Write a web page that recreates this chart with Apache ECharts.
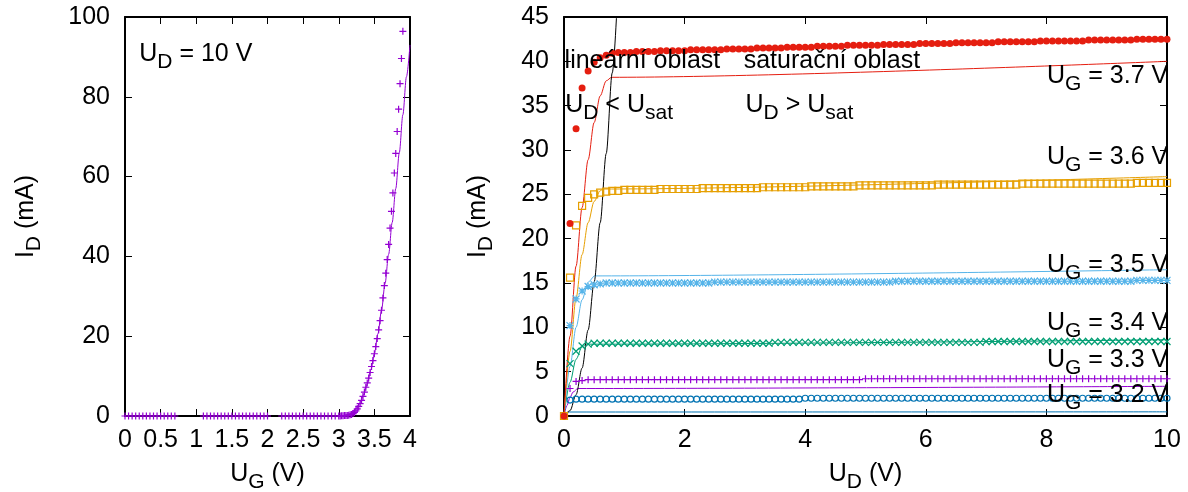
<!DOCTYPE html>
<html>
<head>
<meta charset="utf-8">
<script src="https://cdn.jsdelivr.net/npm/echarts@6/dist/echarts.min.js"></script>
<style>
  html, body { margin: 0; padding: 0; background: #fff; }
  #chart { width: 1188px; height: 492px; }
</style>
</head>
<body>
<div id="chart"></div>
<script>
// --- transfer characteristic, U_D = 10 V ---
const ugMeas = [
  0, 0.05, 0.1, 0.15, 0.2, 0.25, 0.3, 0.35, 0.4, 0.45, 0.5, 0.55, 0.6, 0.65, 0.7,
  1.1, 1.15, 1.2, 1.25, 1.3, 1.35, 1.4, 1.45, 1.5, 1.55, 1.6, 1.65, 1.7, 1.75, 1.8, 1.85, 1.9, 1.95, 2.0,
  2.2, 2.25, 2.3, 2.35, 2.4, 2.45, 2.5, 2.55, 2.6, 2.65, 2.7, 2.75, 2.8, 2.85, 2.9, 2.95, 3.0,
  3.02, 3.04, 3.06, 3.08, 3.1, 3.12, 3.14, 3.16, 3.18, 3.2,
  3.22, 3.24, 3.26, 3.28, 3.3, 3.32, 3.34, 3.36, 3.38, 3.4,
  3.42, 3.44, 3.46, 3.48, 3.5, 3.52, 3.54, 3.56, 3.58, 3.6,
  3.62, 3.64, 3.66, 3.68, 3.7, 3.72, 3.74, 3.76, 3.78, 3.8,
  3.82, 3.84, 3.86, 3.88, 3.9
];
const idMeas = [
  0, 0, 0, 0, 0, 0, 0, 0, 0, 0, 0, 0, 0, 0, 0,
  0, 0, 0, 0, 0, 0, 0, 0, 0, 0, 0, 0, 0, 0, 0, 0, 0, 0, 0,
  0, 0, 0, 0, 0, 0, 0, 0, 0, 0, 0, 0, 0, 0, 0, 0, 0,
  0, 0.05, 0.05, 0.1, 0.1, 0.15, 0.2, 0.3, 0.4, 0.6,
  0.9, 1.3, 1.8, 2.4, 3.1, 3.9, 4.9, 6.0, 7.2, 8.3,
  9.5, 10.9, 12.4, 13.9, 15.6, 17.4, 19.4, 21.6, 23.9, 26.5,
  29.6, 32.7, 35.8, 39.2, 43.0, 47.1, 51.3, 55.9, 60.9, 65.8,
  71.3, 76.9, 83.3, 89.6, 96.4
];
const ugFit = [3.0, 3.05, 3.1, 3.15, 3.2, 3.25, 3.3, 3.35, 3.4, 3.45, 3.5, 3.55, 3.6, 3.65, 3.7, 3.75, 3.8, 3.85, 3.9, 3.95, 4.0];
const idFit = [0, 0.05, 0.2, 0.5, 1.1, 2.0, 3.4, 5.4, 8.0, 11.5, 15.6, 20.6, 26.5, 33.2, 40.5, 48.5, 57, 66, 75.5, 85, 93];

// --- output characteristics ---
const udSweep = [
  0, 0.1, 0.2, 0.3, 0.4, 0.5, 0.6, 0.7, 0.8, 0.9, 1, 1.1, 1.2, 1.3, 1.4, 1.5, 1.6, 1.7, 1.8, 1.9,
  2, 2.1, 2.2, 2.3, 2.4, 2.5, 2.6, 2.7, 2.8, 2.9, 3, 3.1, 3.2, 3.3, 3.4, 3.5, 3.6, 3.7, 3.8, 3.9,
  4, 4.1, 4.2, 4.3, 4.4, 4.5, 4.6, 4.7, 4.8, 4.9, 5, 5.1, 5.2, 5.3, 5.4, 5.5, 5.6, 5.7, 5.8, 5.9,
  6, 6.1, 6.2, 6.3, 6.4, 6.5, 6.6, 6.7, 6.8, 6.9, 7, 7.1, 7.2, 7.3, 7.4, 7.5, 7.6, 7.7, 7.8, 7.9,
  8, 8.1, 8.2, 8.3, 8.4, 8.5, 8.6, 8.7, 8.8, 8.9, 9, 9.1, 9.2, 9.3, 9.4, 9.5, 9.6, 9.7, 9.8, 9.9, 10
];
const id37 = [
  0, 21.7, 32.4, 37.0, 38.9, 39.9, 40.4, 40.7, 40.9, 41.0,
  41.0, 41.0, 41.1, 41.1, 41.1, 41.1, 41.2, 41.2, 41.2, 41.2,
  41.2, 41.3, 41.3, 41.3, 41.3, 41.3, 41.3, 41.4, 41.4, 41.4,
  41.4, 41.4, 41.5, 41.5, 41.5, 41.5, 41.5, 41.6, 41.6, 41.6,
  41.6, 41.6, 41.7, 41.7, 41.7, 41.7, 41.7, 41.8, 41.8, 41.8,
  41.8, 41.8, 41.8, 41.9, 41.9, 41.9, 41.9, 41.9, 41.9, 42.0,
  42.0, 42.0, 42.0, 42.0, 42.0, 42.1, 42.1, 42.1, 42.1, 42.1,
  42.1, 42.1, 42.2, 42.2, 42.2, 42.2, 42.2, 42.2, 42.2, 42.3,
  42.3, 42.3, 42.3, 42.3, 42.3, 42.3, 42.3, 42.4, 42.4, 42.4,
  42.4, 42.4, 42.4, 42.4, 42.4, 42.5, 42.5, 42.5, 42.5, 42.5,
  42.5
];
const id36 = [
  0, 15.6, 21.5, 23.7, 24.6, 25.0, 25.2, 25.3, 25.4, 25.4,
  25.5, 25.5, 25.5, 25.5, 25.5, 25.5, 25.6, 25.6, 25.6, 25.6,
  25.6, 25.6, 25.6, 25.7, 25.7, 25.7, 25.7, 25.7, 25.7, 25.7,
  25.7, 25.7, 25.7, 25.8, 25.8, 25.8, 25.8, 25.8, 25.8, 25.8,
  25.8, 25.9, 25.9, 25.9, 25.9, 25.9, 25.9, 25.9, 25.9, 26.0,
  26.0, 26.0, 26.0, 26.0, 26.0, 26.0, 26.0, 26.0, 26.0, 26.0,
  26.0, 26.0, 26.1, 26.1, 26.1, 26.1, 26.1, 26.1, 26.1, 26.1,
  26.1, 26.1, 26.1, 26.1, 26.1, 26.1, 26.2, 26.2, 26.2, 26.2,
  26.2, 26.2, 26.2, 26.2, 26.2, 26.2, 26.2, 26.2, 26.2, 26.2,
  26.2, 26.2, 26.2, 26.2, 26.2, 26.3, 26.3, 26.3, 26.3, 26.3,
  26.3
];
const id35 = [
  0, 10.2, 13.2, 14.1, 14.6, 14.8, 14.9, 15.0, 15.0, 15.0,
  15.0, 15.0, 15.0, 15.0, 15.0, 15.0, 15.0, 15.0, 15.0, 15.0,
  15.0, 15.0, 15.0, 15.0, 15.0, 15.1, 15.1, 15.1, 15.1, 15.1,
  15.1, 15.1, 15.1, 15.1, 15.1, 15.1, 15.1, 15.1, 15.1, 15.1,
  15.1, 15.1, 15.1, 15.1, 15.1, 15.1, 15.1, 15.1, 15.1, 15.1,
  15.1, 15.1, 15.1, 15.1, 15.1, 15.2, 15.2, 15.2, 15.2, 15.2,
  15.2, 15.2, 15.2, 15.2, 15.2, 15.2, 15.2, 15.2, 15.2, 15.2,
  15.2, 15.2, 15.2, 15.2, 15.2, 15.2, 15.2, 15.2, 15.2, 15.2,
  15.2, 15.2, 15.2, 15.2, 15.2, 15.2, 15.2, 15.2, 15.2, 15.2,
  15.2, 15.2, 15.2, 15.2, 15.2, 15.3, 15.3, 15.3, 15.3, 15.3,
  15.3
];
const id34 = [
  0, 5.9, 7.3, 7.9, 8.1, 8.2, 8.2, 8.2, 8.2, 8.2,
  8.2, 8.2, 8.2, 8.2, 8.2, 8.2, 8.2, 8.2, 8.2, 8.2,
  8.2, 8.2, 8.2, 8.2, 8.2, 8.2, 8.2, 8.2, 8.2, 8.2,
  8.2, 8.2, 8.2, 8.2, 8.2, 8.3, 8.3, 8.3, 8.3, 8.3,
  8.3, 8.3, 8.3, 8.3, 8.3, 8.3, 8.3, 8.3, 8.3, 8.3,
  8.3, 8.3, 8.3, 8.3, 8.3, 8.3, 8.3, 8.3, 8.3, 8.3,
  8.3, 8.3, 8.3, 8.3, 8.3, 8.3, 8.3, 8.3, 8.3, 8.3,
  8.4, 8.4, 8.4, 8.4, 8.4, 8.4, 8.4, 8.4, 8.4, 8.4,
  8.4, 8.4, 8.4, 8.4, 8.4, 8.4, 8.4, 8.4, 8.4, 8.4,
  8.4, 8.4, 8.4, 8.4, 8.4, 8.4, 8.4, 8.4, 8.4, 8.4,
  8.4
];
const id33 = [
  0, 3.1, 3.9, 4.0, 4.1, 4.1, 4.1, 4.1, 4.1, 4.1,
  4.1, 4.1, 4.1, 4.1, 4.1, 4.1, 4.1, 4.1, 4.1, 4.1,
  4.1, 4.1, 4.1, 4.1, 4.1, 4.1, 4.1, 4.1, 4.1, 4.1,
  4.1, 4.1, 4.1, 4.1, 4.1, 4.1, 4.1, 4.1, 4.1, 4.1,
  4.1, 4.1, 4.1, 4.1, 4.1, 4.1, 4.1, 4.1, 4.1, 4.1,
  4.2, 4.2, 4.2, 4.2, 4.2, 4.2, 4.2, 4.2, 4.2, 4.2,
  4.2, 4.2, 4.2, 4.2, 4.2, 4.2, 4.2, 4.2, 4.2, 4.2,
  4.2, 4.2, 4.2, 4.2, 4.2, 4.2, 4.2, 4.2, 4.2, 4.2,
  4.2, 4.2, 4.2, 4.2, 4.2, 4.2, 4.2, 4.2, 4.2, 4.2,
  4.2, 4.2, 4.2, 4.2, 4.2, 4.2, 4.2, 4.2, 4.2, 4.2,
  4.2
];
const id32 = [
  0, 1.8, 1.9, 1.9, 1.9, 1.9, 1.9, 1.9, 1.9, 1.9,
  1.9, 1.9, 1.9, 1.9, 1.9, 1.9, 1.9, 1.9, 1.9, 1.9,
  1.9, 1.9, 1.9, 1.9, 1.9, 1.9, 1.9, 1.9, 1.9, 1.9,
  1.9, 1.9, 1.9, 1.9, 1.9, 1.9, 1.9, 1.9, 1.9, 1.9,
  2.0, 2.0, 2.0, 2.0, 2.0, 2.0, 2.0, 2.0, 2.0, 2.0,
  2.0, 2.0, 2.0, 2.0, 2.0, 2.0, 2.0, 2.0, 2.0, 2.0,
  2.0, 2.0, 2.0, 2.0, 2.0, 2.0, 2.0, 2.0, 2.0, 2.0,
  2.0, 2.0, 2.0, 2.0, 2.0, 2.0, 2.0, 2.0, 2.0, 2.0,
  2.0, 2.0, 2.0, 2.0, 2.0, 2.0, 2.0, 2.0, 2.0, 2.0,
  2.0, 2.0, 2.0, 2.0, 2.0, 2.0, 2.0, 2.0, 2.0, 2.0,
  2.0
];

// fitted model curves
const fit37U = [0, 0.1, 0.2, 0.3, 0.4, 0.5, 0.6, 0.7, 0.79, 10];
const fit37I = [0, 9.0, 16.9, 23.5, 28.9, 33.1, 36.1, 37.8, 38.2, 40.0];
const fit36U = [0, 0.1, 0.2, 0.3, 0.4, 0.5, 0.6, 0.65, 10];
const fit36I = [0, 7.3, 13.3, 18.2, 21.8, 24.2, 25.4, 25.6, 27.0];
const fit35U = [0, 0.1, 0.2, 0.3, 0.4, 0.51, 10];
const fit35I = [0, 5.6, 10.0, 13.1, 15.1, 15.8, 16.5];
const fit34U = [0, 0.1, 0.2, 0.3, 0.37, 10];
const fit34I = [0, 3.8, 6.4, 7.8, 8.1, 8.6];
const fit33U = [0, 0.05, 0.1, 0.15, 0.23, 10];
const fit33I = [0, 1.2, 2.1, 2.7, 3.1, 3.35];
const fit32U = [0, 0.04, 0.09, 10];
const fit32I = [0, 0.34, 0.45, 0.47];

// U_D = U_sat boundary
const satU = [0, 0.1, 0.2, 0.3, 0.4, 0.5, 0.6, 0.7, 0.8, 0.9];
const satI = [0, 0.6, 2.4, 5.4, 9.7, 15.1, 21.8, 29.6, 38.7, 49.0];

const FONT = 'Liberation Sans, Arial, sans-serif';
const RICH = {
  m: { fontSize: 25, fontFamily: FONT, color: '#000' },
  s: { fontSize: 21, fontFamily: FONT, color: '#000', padding: [16, 0, 0, 0] }
};

const PLUS = 'path://M5,0L5,10M0,5L10,5';
const CROSS = 'path://M0,0L10,10M10,0L0,10';
const STAR = 'path://M5,0L5,10M0,5L10,5M0,0L10,10M10,0L0,10';

function zip(xs, ys) {
  return xs.map((x, i) => [x, ys[i]]);
}

function valueAxis(gi, pos, min, max, interval, labels, name, gap) {
  return {
    type: 'value', gridIndex: gi, position: pos,
    min: min, max: max, interval: interval,
    axisLine: { show: true, onZero: false, lineStyle: { color: '#000', width: 2 } },
    axisTick: { show: true, inside: true, length: 7, lineStyle: { color: '#000', width: 1 } },
    axisLabel: { show: labels, fontSize: 25, fontFamily: FONT, color: '#000', margin: labels && (pos === 'left') ? 15 : 12 },
    splitLine: { show: false },
    name: name || '',
    nameLocation: 'middle',
    nameGap: gap || 0,
    nameTextStyle: { rich: RICH }
  };
}

function points(xi, data, symbol, color, filled, size) {
  return {
    type: 'scatter', xAxisIndex: xi, yAxisIndex: xi, data: data,
    symbol: symbol, symbolSize: size || 7, silent: true,
    itemStyle: filled
      ? { color: color, opacity: 1 }
      : { color: 'rgba(0,0,0,0)', borderColor: color, borderWidth: 1.2, opacity: 1 },
    z: 3
  };
}

function curve(xi, data, color) {
  return {
    type: 'line', xAxisIndex: xi, yAxisIndex: xi, data: data,
    showSymbol: false, silent: true, smooth: 0.3, smoothMonotone: 'x',
    lineStyle: { color: color, width: 1 }, z: 2
  };
}

function note(xi, x, y, text, side) {
  return {
    type: 'scatter', xAxisIndex: xi, yAxisIndex: xi, data: [[x, y]],
    symbolSize: 0, silent: true, clip: false,
    label: {
      show: true, position: side, distance: 0, formatter: text, rich: RICH,
      color: '#000', opacity: 1, textBorderWidth: 0
    },
    z: 5
  };
}

const chart = echarts.init(document.getElementById('chart'));

chart.setOption({
  animation: false,
  backgroundColor: '#fff',
  grid: [
    { left: 125, top: 17, width: 285, height: 399, containLabel: false, outerBoundsMode: 'none' },
    { left: 564, top: 17, width: 603, height: 399, containLabel: false, outerBoundsMode: 'none' }
  ],
  xAxis: [
    valueAxis(0, 'bottom', 0, 4, 0.5, true, '{m|U}{s|G}{m| (V)}', 40),
    valueAxis(0, 'top', 0, 4, 0.5, false),
    valueAxis(1, 'bottom', 0, 10, 2, true, '{m|U}{s|D}{m| (V)}', 40),
    valueAxis(1, 'top', 0, 10, 2, false)
  ],
  yAxis: [
    valueAxis(0, 'left', 0, 100, 20, true, '{m|I}{s|D}{m| (mA)}', 80),
    valueAxis(0, 'right', 0, 100, 20, false),
    valueAxis(1, 'left', 0, 45, 5, true, '{m|I}{s|D}{m| (mA)}', 67),
    valueAxis(1, 'right', 0, 45, 5, false)
  ],
  series: [
    // left panel
    points(0, zip(ugMeas, idMeas), PLUS, '#9400d3', false, 7),
    curve(0, zip(ugFit, idFit), '#9400d3'),
    note(0, 0.2, 90.7, '{m|U}{s|D}{m| = 10 V}', 'right'),

    // right panel, measured
    points(2, zip(udSweep, id32), 'circle', '#0072b2', false, 6),
    points(2, zip(udSweep, id33), PLUS, '#9400d3', false, 7),
    points(2, zip(udSweep, id34), CROSS, '#009e73', false, 7),
    points(2, zip(udSweep, id35), STAR, '#56b4e9', false, 7),
    points(2, zip(udSweep, id36), 'rect', '#e69f00', false, 7),
    points(2, zip(udSweep, id37), 'circle', '#e51e10', true, 7),

    // right panel, fits
    curve(2, zip(fit32U, fit32I), '#0072b2'),
    curve(2, zip(fit33U, fit33I), '#9400d3'),
    curve(2, zip(fit34U, fit34I), '#009e73'),
    curve(2, zip(fit35U, fit35I), '#56b4e9'),
    curve(2, zip(fit36U, fit36I), '#e69f00'),
    curve(2, zip(fit37U, fit37I), '#e51e10'),
    curve(2, zip(satU, satI), '#000'),

    // annotations
    note(2, 0.01, 40.0, '{m|lineární oblast}', 'right'),
    note(2, 2.98, 40.0, '{m|saturační oblast}', 'right'),
    note(2, 0.02, 35.1, '{m|U}{s|D}{m| < U}{s|sat}', 'right'),
    note(2, 3.01, 35.1, '{m|U}{s|D}{m| > U}{s|sat}', 'right'),
    note(2, 10.02, 38.3, '{m|U}{s|G}{m| = 3.7 V}', 'left'),
    note(2, 10.02, 29.2, '{m|U}{s|G}{m| = 3.6 V}', 'left'),
    note(2, 10.02, 17.0, '{m|U}{s|G}{m| = 3.5 V}', 'left'),
    note(2, 10.02, 10.45, '{m|U}{s|G}{m| = 3.4 V}', 'left'),
    note(2, 10.02, 6.3, '{m|U}{s|G}{m| = 3.3 V}', 'left'),
    note(2, 10.02, 2.37, '{m|U}{s|G}{m| = 3.2 V}', 'left')
  ]
});
</script>
</body>
</html>
